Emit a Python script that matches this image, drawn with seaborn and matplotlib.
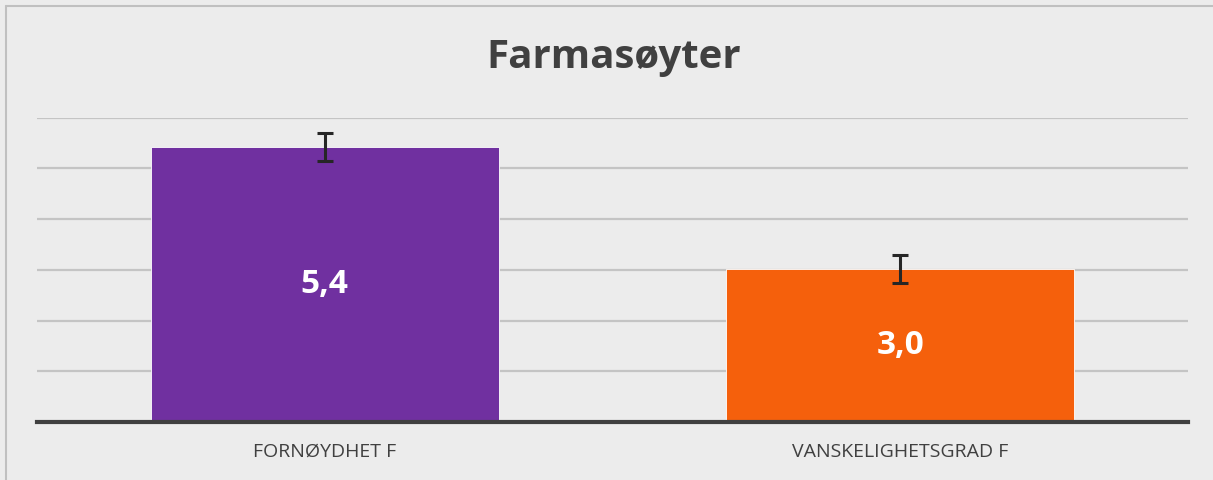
import matplotlib
matplotlib.use("Agg")
import matplotlib.pyplot as plt
import seaborn as sns
import pandas as pd

# values
categories = ["FORNØYDHET F", "VANSKELIGHETSGRAD F"]
means = [5.42, 3.02]
errors = [0.28, 0.27]
labels = ["5,4", "3,0"]
colors = ["#7030a0", "#f5600c"]

sns.set_theme(style="white")
plt.rcParams["font.family"] = ["Open Sans", "DejaVu Sans"]

bg = "#ececec"
fig = plt.figure(figsize=(12.13, 4.8), dpi=100, facecolor=bg)
ax = fig.add_axes([0.0305, 0.1208, 0.949, 0.634])
ax.set_facecolor(bg)

df = pd.DataFrame({"cat": categories, "val": means})
sns.barplot(data=df, x="cat", y="val", hue="cat", palette=colors, legend=False,
            saturation=1, width=0.605, edgecolor="#ffffff", linewidth=0.6, ax=ax, zorder=3)
ax.errorbar(range(len(means)), means, yerr=errors, fmt="none", ecolor="#262626",
            elinewidth=2.2, capsize=6, capthick=2.2, zorder=4)

for i, (v, lab) in enumerate(zip(means, labels)):
    ax.text(i, v / 2, lab, ha="center", va="center", color="white",
            fontsize=24, fontweight="bold", zorder=5)

ax.set_ylim(0, 6)
ax.set_xlim(-0.5, 1.5)
ax.set_yticks(range(1, 7))
ax.set_yticklabels([])
ax.tick_params(axis="y", length=0)
ax.tick_params(axis="x", length=0, pad=15, labelsize=14, labelcolor="#404040")
ax.yaxis.grid(True, color="#c4c4c4", linewidth=1.6, zorder=0)
ax.set_axisbelow(True)
for side in ["top", "right", "left"]:
    ax.spines[side].set_visible(False)
ax.spines["bottom"].set_color("#404040")
ax.spines["bottom"].set_linewidth(3)
ax.spines["bottom"].set_zorder(6)
ax.set_xlabel("")
ax.set_ylabel("")

fig.text(0.506, 0.88, "Farmasøyter", ha="center", va="center",
         fontsize=29, fontweight="bold", color="#404040")

# thin light frame like the reference (left and top only)
fig.add_artist(plt.Line2D([6 / 1213, 6 / 1213], [0, 1 - 6 / 480], transform=fig.transFigure,
                          color="#c0c0c0", linewidth=1.5))
fig.add_artist(plt.Line2D([6 / 1213, 1], [1 - 6 / 480, 1 - 6 / 480], transform=fig.transFigure,
                          color="#c0c0c0", linewidth=1.5))

fig.savefig("out.png", dpi=100, facecolor=bg)
